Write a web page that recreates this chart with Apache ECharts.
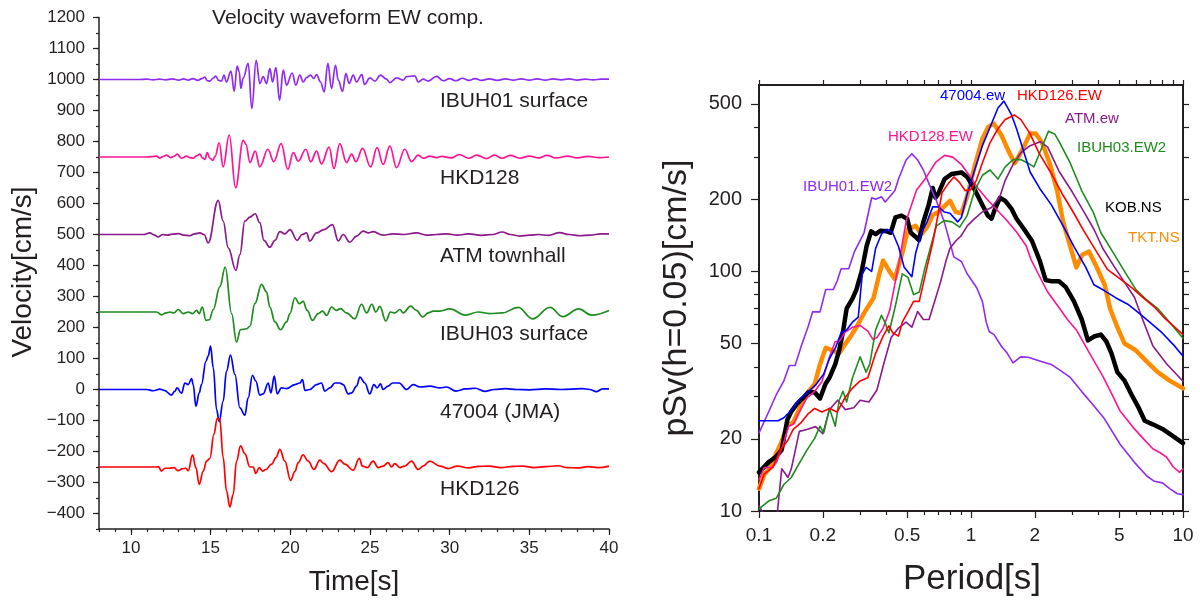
<!DOCTYPE html>
<html>
<head>
<meta charset="utf-8">
<title>Velocity waveform / pSv</title>
<script src="https://cdn.jsdelivr.net/npm/echarts@6.0.0/dist/echarts.min.js"></script>
<style>
  html, body { margin: 0; padding: 0; background: #fff; }
  #chart { width: 1200px; height: 600px; }
</style>
</head>
<body>
<div id="chart"></div>
<script>
// ---- left panel: velocity waveforms (EW comp.) ----
const timeTicks = [10, 15, 20, 25, 30, 35, 40];
const velocityTicks = [-400, -300, -200, -100, 0, 100, 200, 300, 400, 500, 600, 700, 800, 900, 1000, 1100, 1200];
const stationNames = ["IBUH01 surface", "HKD128", "ATM townhall", "IBUH03 surface", "47004 (JMA)", "HKD126"];
const stationOffsets = [1000, 750, 500, 250, 0, -250];

// [time s, velocity cm/s relative to the trace offset]
const ibuh01Ew = [[8,0],[10.5,0],[11,1],[11.4,-1],[11.8,1],[12.2,-1],[12.6,2],[13,-2],[13.3,2],[13.6,-2],[13.9,3],[14.2,-3],[14.45,3],[14.64,8],[14.8,-4],[14.96,-5],[15.15,4],[15.33,11],[15.5,-3],[15.69,-5],[15.84,14],[16,-8],[16.28,27],[16.48,-38],[16.67,43],[16.8,25],[16.9,-29],[17.05,5],[17.36,52],[17.59,-94],[17.86,62],[18.09,-13],[18.3,9],[18.51,-13],[18.72,35],[18.89,-8],[19.1,38],[19.33,-67],[19.56,30],[19.77,-18],[20.12,21],[20.35,-18],[20.6,14],[20.81,-8],[21.02,6],[21.27,14],[21.48,3],[21.65,16],[21.9,-8],[22.13,-40],[22.36,52],[22.59,-29],[22.84,46],[23.01,-2],[23.28,-38],[23.49,19],[23.7,-13],[23.95,14],[24.16,-8],[24.49,16],[24.66,-16],[25,5],[25.31,-5],[25.66,14],[26.04,1],[26.25,-10],[26.67,5],[27.09,-2],[27.3,9],[27.82,12],[28.03,-8],[28.34,1],[28.66,-5],[29.18,10],[29.6,-4],[30,3],[30.4,-4],[30.8,4],[31.2,-3],[31.6,3],[32,-3],[32.5,2],[33,-3],[33.5,2],[34,-2],[34.5,2],[35,-2],[35.5,2],[36,-2],[36.5,2],[37,-1],[37.5,2],[38,-2],[38.5,1],[39,-1],[39.5,1],[40,1]];
const hkd128Ew = [[8,0],[11,0],[11.3,1],[11.61,3],[11.82,-4],[12,1],[12.24,6],[12.5,-2],[12.7,2],[12.91,9],[13.18,-4],[13.5,3],[13.7,-2],[13.91,-4],[14.1,3],[14.33,9],[14.5,-3],[14.64,-8],[14.79,14],[14.96,-4],[15.13,-11],[15.29,3],[15.54,46],[15.79,-32],[16.17,71],[16.57,-99],[17.05,54],[17.22,41],[17.47,-18],[17.8,19],[18.09,-32],[18.6,25],[18.97,-15],[19.43,43],[19.85,-40],[20.19,14],[20.5,-13],[20.98,25],[21.29,-15],[21.65,19],[21.96,-22],[22.44,32],[22.74,-37],[23.11,43],[23.53,-18],[23.85,9],[24.12,-15],[24.54,28],[25.04,-32],[25.45,30],[25.83,-24],[26.25,35],[26.67,-34],[27.19,25],[27.61,-15],[28.03,6],[28.34,-4],[28.76,3],[29.18,-2],[29.5,2],[30.1,-3],[30.6,8],[31.2,-4],[31.7,6],[32.3,-5],[32.8,6],[33.3,-4],[33.8,5],[34.4,-4],[35,3],[35.6,-3],[36.1,5],[36.7,-3],[37.4,3],[38,-3],[38.7,2],[39.4,-2],[40,0]];
const atmEw = [[8,0],[10.8,0],[11.19,5],[11.45,-1],[11.72,-8],[12,0],[12.3,-2],[12.6,1],[13,3],[13.3,-2],[13.7,-4],[14,2],[14.33,5],[14.6,0],[14.85,-27],[15.48,110],[15.79,43],[16.11,-43],[16.59,-116],[16.84,-65],[17.15,43],[17.47,56],[17.8,67],[18.09,38],[18.35,-19],[18.72,-41],[19.04,-19],[19.35,9],[19.66,2],[19.98,16],[20.44,-19],[20.75,0],[21.02,5],[21.23,-21],[21.65,5],[22.11,16],[22.65,32],[23.01,-21],[23.32,0],[23.74,-25],[24.16,-5],[24.58,11],[24.9,5],[25.2,9],[25.83,-2],[26.46,2],[27.09,0],[27.92,5],[28.55,-2],[29.18,0],[29.8,2],[30.5,-2],[31.2,2],[32,-3],[32.7,0],[33.3,8],[33.8,0],[34.4,-5],[35,-2],[35.6,0],[36.2,-3],[36.9,6],[37.5,0],[38.2,-4],[38.8,-2],[39.5,2],[40,2]];
const ibuh03Ew = [[8,0],[11.4,0],[11.61,0],[11.93,-9],[12.2,-3],[12.45,0],[12.7,-3],[12.97,8],[13.28,-5],[13.6,0],[13.87,-5],[14.12,5],[14.29,-5],[14.48,16],[14.71,-27],[14.92,-25],[15.17,8],[15.58,81],[15.92,145],[16.32,-5],[16.63,-97],[16.88,-57],[17.26,-54],[17.47,-46],[17.78,27],[18.2,89],[18.51,65],[18.72,16],[19.04,-32],[19.39,-57],[19.77,-32],[19.98,-5],[20.29,46],[20.56,27],[20.81,34],[21.06,5],[21.4,-27],[21.75,-5],[22.03,3],[22.28,-11],[22.59,16],[22.9,5],[23.15,11],[23.53,-3],[24.05,-22],[24.47,25],[24.79,-3],[25.12,25],[25.37,0],[25.62,18],[26,-29],[26.29,0],[26.56,-3],[26.88,8],[27.09,-3],[27.55,19],[27.92,5],[28.3,-16],[28.66,-3],[28.97,3],[29.39,3],[30,10],[31,-10],[31.8,0],[32.5,-5],[33.3,-3],[34.3,15],[35.2,-22],[36.3,15],[37.1,-15],[38.1,10],[38.9,-10],[40,5]];
const jma47004Ew = [[8,0],[11,0],[11.4,-4],[11.82,1],[12.1,-3],[12.55,-18],[12.75,-6],[12.9,5],[13.18,-12],[13.39,21],[13.6,16],[13.81,35],[13.91,16],[14.08,-54],[14.29,-11],[14.43,16],[14.71,91],[14.85,108],[15,140],[15.17,70],[15.38,-65],[15.54,-104],[15.79,-38],[16,59],[16.25,111],[16.53,48],[16.84,-59],[17.15,-83],[17.36,-27],[17.63,46],[17.84,27],[18.09,-18],[18.3,-14],[18.62,21],[18.78,-11],[19,43],[19.18,-14],[19.45,5],[19.77,3],[20.29,16],[20.6,21],[20.77,32],[20.92,-3],[21.23,0],[21.65,16],[21.96,21],[22.17,-5],[22.49,5],[22.8,21],[23.11,21],[23.32,16],[23.64,-14],[23.85,-11],[24.16,11],[24.37,40],[24.68,21],[24.99,-14],[25.25,16],[25.45,5],[25.66,18],[25.83,0],[26.14,11],[26.42,21],[26.83,21],[27.3,0],[27.71,16],[28.13,8],[28.76,11],[29.39,5],[29.8,8],[30.4,-5],[31,2],[31.6,4],[32.2,-6],[32.8,0],[33.5,3],[34.2,0],[35,-1],[36,2],[37,0],[38.3,3],[38.8,0],[39.2,-7],[39.6,2],[40,2]];
const hkd126Ew = [[8,0],[11.4,0],[11.61,0],[11.72,1],[11.93,-13],[12.13,-4],[12.45,-4],[12.7,-2],[12.97,-12],[13.2,-6],[13.45,-4],[13.6,-12],[13.87,39],[14.08,-2],[14.29,-56],[14.54,-13],[14.75,19],[14.96,28],[15.21,105],[15.42,157],[15.58,154],[15.79,30],[16,-77],[16.21,-129],[16.42,-88],[16.63,19],[16.88,68],[17.15,43],[17.47,0],[17.68,0],[17.84,-21],[18.05,-2],[18.26,-13],[18.47,-8],[18.83,9],[19.1,30],[19.35,57],[19.66,19],[20.02,-43],[20.29,-15],[20.5,14],[20.81,39],[21.13,19],[21.48,-8],[21.86,22],[22.11,11],[22.59,-15],[23.11,22],[23.43,9],[23.95,-11],[24.33,28],[24.53,3],[24.83,-2],[25.2,19],[25.52,-2],[25.83,3],[26.14,14],[26.35,0],[26.56,11],[26.88,-2],[27.19,3],[27.61,19],[28.03,-8],[28.34,3],[28.76,19],[29.39,3],[29.9,-5],[30.5,3],[31.2,-3],[31.8,2],[32.5,3],[33.2,-2],[34,2],[34.6,3],[35.3,-2],[36,1],[36.8,4],[37.4,-2],[38,-3],[38.7,1],[39.3,-2],[40,3]];

// ---- right panel: pSv (h=0.05) ----
const periodMajor = [0.1, 0.2, 0.5, 1, 2, 5, 10];
const periodMinor = [0.3, 0.4, 0.6, 0.7, 0.8, 0.9, 3, 4, 6, 7, 8, 9];
const psvMajor = [10, 20, 50, 100, 200, 500];
const psvMinor = [30, 40, 60, 70, 80, 90, 300, 400];

// [period s, pSv cm/s]
const ibuh01Ew2 = [[0.1,21.2],[0.111,25.9],[0.1205,30.5],[0.131,34.9],[0.139,40.5],[0.148,40.5],[0.158,48.6],[0.171,59.3],[0.179,67.8],[0.194,67.8],[0.2065,84],[0.224,84],[0.234,91.4],[0.244,102.6],[0.265,102.6],[0.282,121],[0.313,145],[0.34,203],[0.355,200],[0.378,205],[0.394,195],[0.419,208],[0.437,217],[0.455,243],[0.494,292],[0.526,310],[0.56,292],[0.596,265],[0.634,232],[0.689,196],[0.748,161],[0.796,132],[0.83,115],[0.847,113],[0.901,110],[0.959,97.8],[1.064,85.5],[1.132,74.8],[1.18,61.4],[1.22,56],[1.282,54.6],[1.394,48.6],[1.483,45.5],[1.578,41.5],[1.715,44],[1.862,43.8],[2.109,42.3],[2.388,40.9],[2.594,39],[2.94,36.1],[3.33,31.5],[3.77,27.7],[4.27,24.2],[5.05,19],[5.96,15.8],[6.75,14],[7.33,13.3],[8,13.1],[8.65,12.4],[9.4,11.8],[10,11.7]];
const hkd128Ew2 = [[0.1,13.5],[0.106,15.2],[0.116,15.2],[0.121,16],[0.13,19],[0.138,22.6],[0.145,23],[0.155,25.9],[0.168,29.6],[0.183,31.6],[0.198,34.6],[0.215,44],[0.229,51],[0.239,51],[0.254,55.5],[0.276,58.5],[0.3,59.5],[0.326,56.3],[0.345,52],[0.36,53],[0.385,58],[0.414,69],[0.453,104],[0.496,164],[0.553,218],[0.617,248],[0.68,285],[0.75,305],[0.82,300],[0.9,280],[0.986,250],[1.08,222],[1.18,202],[1.3,184],[1.47,164],[1.65,145],[1.82,128],[1.92,112],[2.11,95],[2.3,82],[2.62,70],[2.85,63],[3.14,57],[3.6,46],[4.2,36.3],[4.6,31],[5.03,26.3],[5.8,22.4],[6.48,20.1],[7.2,18.2],[7.8,17.5],[8.35,16.8],[8.98,15.3],[9.64,14.5],[10,15]];
const atmEw2 = [[0.1,10.5],[0.106,9.6],[0.115,9.3],[0.122,9.8],[0.128,15],[0.137,13.8],[0.142,15],[0.155,21.5],[0.168,21.9],[0.185,22.5],[0.2,21],[0.215,26.5],[0.235,29],[0.255,26.5],[0.28,27],[0.3,29],[0.33,28.5],[0.36,32],[0.39,42],[0.42,53],[0.455,58],[0.494,61.4],[0.526,58.5],[0.56,68],[0.596,63],[0.634,63],[0.674,75],[0.72,91],[0.763,111],[0.796,125],[0.847,134],[0.9,141],[0.96,155],[1.04,166],[1.13,177],[1.25,185],[1.37,206],[1.45,240],[1.58,280],[1.72,313],[1.9,335],[2.12,348],[2.3,330],[2.6,262],[3,215],[3.4,178],[3.8,150],[4.2,124],[4.7,106],[5.3,90],[5.9,78],[6.5,62],[7.2,49],[8.4,41],[10,34.8]];
const ibuh03Ew2 = [[0.1,10.2],[0.111,11],[0.1205,11.3],[0.131,12.9],[0.142,13.8],[0.151,15.2],[0.168,17.9],[0.183,20.1],[0.194,22.6],[0.202,21.2],[0.215,26.8],[0.229,22.6],[0.239,29],[0.249,31.6],[0.259,28.5],[0.276,36],[0.3,44],[0.32,38],[0.333,41],[0.355,57],[0.378,65.6],[0.394,61],[0.41,55.5],[0.437,70],[0.474,97.7],[0.504,94.5],[0.536,80],[0.57,82],[0.607,104],[0.646,127],[0.687,155],[0.748,163],[0.813,161],[0.884,153],[0.959,171],[1.04,217],[1.132,252],[1.23,265],[1.34,243],[1.45,273],[1.58,293],[1.715,293],[1.86,283],[1.98,273],[2.11,313],[2.32,385],[2.48,375],[2.62,345],[2.94,283],[3.33,217],[3.77,177],[4.1,145],[4.6,123],[5.3,100],[6,84],[6.75,76],[7.6,70],[8.65,61.4],[10,52.6]];
const jma47004Ew2 = [[0.1,23.8],[0.123,23.8],[0.131,24.5],[0.142,26.3],[0.155,29.2],[0.171,31.5],[0.186,33.8],[0.202,37.3],[0.215,43.3],[0.229,47.8],[0.244,55.5],[0.259,57],[0.276,61.4],[0.294,64.5],[0.307,97.7],[0.32,104],[0.34,100],[0.355,125],[0.378,143],[0.401,150],[0.427,145],[0.455,127],[0.484,104],[0.526,95],[0.548,119],[0.584,145],[0.62,161],[0.66,186],[0.703,186],[0.748,177],[0.796,175],[0.865,161],[0.901,168],[0.959,210],[1.04,265],[1.132,335],[1.23,400],[1.34,481],[1.43,514],[1.55,452],[1.64,394],[1.78,313],[1.9,260],[2.11,222],[2.39,190],[2.72,155],[3.06,127],[3.48,104],[3.8,88],[4.27,83],[4.83,77.5],[5.49,73],[6.2,67],[7.03,61],[7.96,55.5],[9,49.5],[10,44.3]];
const hkd126Ew2 = [[0.1,12.4],[0.106,14.3],[0.116,15.2],[0.126,17.9],[0.137,19.8],[0.145,21.9],[0.158,23.4],[0.171,25.5],[0.183,26.8],[0.198,25.9],[0.215,26.8],[0.234,25.9],[0.254,29.6],[0.276,32.6],[0.3,34.9],[0.326,36],[0.355,45.5],[0.385,53.7],[0.41,59.3],[0.427,55.5],[0.455,53.7],[0.474,61.4],[0.494,65.6],[0.536,75],[0.57,75],[0.62,104],[0.66,132],[0.703,177],[0.73,213],[0.78,232],[0.83,248],[0.88,236],[0.94,217],[1,220],[1.06,240],[1.13,283],[1.23,345],[1.34,394],[1.45,431],[1.6,450],[1.72,430],[1.9,375],[2.1,310],[2.4,255],[2.7,210],[3,180],[3.4,148],[3.8,126],[4.4,102],[5.05,93],[5.73,85.5],[6.5,77.5],[7.33,71],[8.1,64.5],[9,59.3],[10,54.5]];
const kobNs = [[0.1,14.5],[0.111,16],[0.12,16.8],[0.128,18],[0.136,24],[0.142,26],[0.151,28],[0.161,29.6],[0.171,31.3],[0.183,31.3],[0.194,29.5],[0.206,34],[0.215,36],[0.229,41],[0.239,47],[0.249,56],[0.259,70],[0.276,77],[0.288,84],[0.305,100],[0.322,128],[0.338,147],[0.355,143],[0.375,148],[0.4,147],[0.418,145],[0.44,168],[0.47,171],[0.5,166],[0.52,145],[0.545,140],[0.568,135],[0.595,160],[0.632,190],[0.66,223],[0.68,203],[0.7,210],[0.75,243],[0.81,255],[0.9,259],[0.96,248],[1.04,220],[1.13,190],[1.2,171],[1.25,166],[1.3,183],[1.37,203],[1.45,197],[1.55,183],[1.64,166],[1.78,150],[1.94,134],[2.11,111],[2.25,92],[2.4,91],[2.6,91],[2.8,86],[3.06,75],[3.33,63],[3.56,51.5],[3.8,53.5],[4.1,54.5],[4.35,51],[4.6,45.5],[4.9,38],[5.3,35],[5.73,30.5],[6.2,26.8],[6.6,23.8],[7.2,23],[8,22],[9,20.5],[10,19.2]];
const tktNs = [[0.1,12.4],[0.106,14.2],[0.113,15.2],[0.1205,17.4],[0.128,19.5],[0.1365,23],[0.145,23.4],[0.158,27.7],[0.171,31.6],[0.183,33.8],[0.194,41],[0.2065,48],[0.22,47],[0.239,45.5],[0.254,49.5],[0.271,53.7],[0.288,58.5],[0.313,67],[0.347,77.5],[0.37,98],[0.385,111],[0.41,101],[0.437,93],[0.474,119],[0.504,150],[0.548,155],[0.584,143],[0.62,153],[0.66,172],[0.703,177],[0.748,187],[0.796,197],[0.847,177],[0.901,175],[0.959,206],[1.04,274],[1.132,358],[1.206,401],[1.282,414],[1.394,369],[1.516,313],[1.61,283],[1.75,323],[1.9,376],[2.02,376],[2.16,345],[2.35,283],[2.55,217],[2.72,161],[2.94,127],[3.14,104],[3.34,117],[3.6,121],[3.92,104],[4.27,88],[4.53,70],[4.9,58.5],[5.3,50],[5.96,47],[6.75,42],[7.6,38],[8.65,35],[10,32.5]];

const ink = "#231f20";
const font = '"Liberation Sans", Arial, Helvetica, sans-serif';
const lg = Math.log10;
const powLabel = v => String(+Math.pow(10, v).toPrecision(2));
const minus = v => (v < 0 ? "\u2212" + Math.abs(v) : String(v));

const waveSets = [
  { data: ibuh01Ew, color: "#8f2cf2" },
  { data: hkd128Ew, color: "#ff1493" },
  { data: atmEw, color: "#8b1a8b" },
  { data: ibuh03Ew, color: "#1e8c1e" },
  { data: jma47004Ew, color: "#0000ff" },
  { data: hkd126Ew, color: "#ff0000" }
];

const spectraSets = [
  { name: "TKT.NS", data: tktNs, color: "#ff8c00", width: 4.5 },
  { name: "KOB.NS", data: kobNs, color: "#000000", width: 4.5 },
  { name: "IBUH01.EW2", data: ibuh01Ew2, color: "#8f2cf2", width: 1.6 },
  { name: "HKD128.EW", data: hkd128Ew2, color: "#ff1493", width: 1.6 },
  { name: "ATM.ew", data: atmEw2, color: "#8b1a8b", width: 1.6 },
  { name: "IBUH03.EW2", data: ibuh03Ew2, color: "#1e8c1e", width: 1.6 },
  { name: "47004.ew", data: jma47004Ew2, color: "#0000ff", width: 1.6 },
  { name: "HKD126.EW", data: hkd126Ew2, color: "#ff0000", width: 1.6 }
];

// label spots for the right panel (pixel anchors, left/middle)
const spectraLabelPos = {
  "47004.ew": [940, 96], "HKD126.EW": [1017, 96], "ATM.ew": [1065, 119],
  "IBUH03.EW2": [1077, 148], "KOB.NS": [1105, 208], "TKT.NS": [1128, 238],
  "HKD128.EW": [888, 137], "IBUH01.EW2": [803, 187]
};
const stationLabelY = [101, 178, 256, 334, 412, 489];

const noLine = { show: false, onZero: false };
const frameLine = w => ({ show: true, onZero: false, lineStyle: { color: ink, width: w } });
const tickStyle = { color: ink, width: 1.2 };

function text(str, x, y, size, color, rot) {
  return {
    type: "text", x: x, y: y, rotation: rot || 0, z: 100,
    style: {
      text: str, fill: color || ink, font: size + "px " + font,
      align: "left", verticalAlign: "middle", textAlign: "left", textVerticalAlign: "middle"
    }
  };
}
function ctext(str, x, y, size, rot) {
  const t = text(str, x, y, size, ink, rot);
  t.style.align = "center";
  t.style.textAlign = "center";
  return t;
}

const graphics = [
  ctext("Velocity waveform EW comp.", 348, 18, 21),
  ctext("Velocity[cm/s]", 23, 272, 28, Math.PI / 2),
  ctext("Time[s]", 354, 582, 28),
  ctext("pSv(h=0.05)[cm/s]", 677, 298, 34, Math.PI / 2),
  ctext("Period[s]", 972, 579, 35)
];
stationNames.forEach((n, i) => graphics.push(text(n, 440, stationLabelY[i], 21, ink)));
spectraSets.forEach(s => {
  const p = spectraLabelPos[s.name];
  graphics.push(text(s.name, p[0], p[1], 15, s.color));
});

const series = [];
waveSets.forEach((w, i) => {
  series.push({
    type: "line", xAxisIndex: 0, yAxisIndex: 0,
    data: w.data.map(p => [p[0], p[1] + stationOffsets[i]]),
    symbol: "none", smooth: 0.4, smoothMonotone: "x", silent: true,
    lineStyle: { color: w.color, width: 1.7 }
  });
});
spectraSets.forEach(s => {
  series.push({
    type: "line", name: s.name, xAxisIndex: 2, yAxisIndex: 2,
    data: s.data, symbol: "none", silent: true, clip: true,
    lineStyle: { color: s.color, width: s.width, join: "round", cap: "round" }
  });
});

const pMin = 0.1, pMax = 10, vMin = 10, vMax = 600;
const periodAll = periodMajor.concat(periodMinor).map(lg);
const psvAll = psvMajor.concat(psvMinor).map(lg);

const option = {
  backgroundColor: "#fff",
  animation: false,
  grid: [
    { left: 99, right: 591, top: 17.5, bottom: 71, containLabel: false, outerBoundsMode: "none" },
    { left: 759, right: 17, top: 85, bottom: 89, containLabel: false, outerBoundsMode: "none" }
  ],
  xAxis: [
    { gridIndex: 0, type: "value", position: "bottom", min: 8, max: 40,
      axisLine: frameLine(1.5),
      axisTick: { customValues: timeTicks, length: 6, lineStyle: tickStyle },
      axisLabel: { customValues: timeTicks, fontSize: 17, color: ink, fontFamily: font, margin: 11 },
      splitLine: { show: false } },
    { gridIndex: 0, type: "value", position: "bottom", min: 8, max: 40, interval: 1,
      axisLine: noLine, axisTick: { length: 3, lineStyle: tickStyle },
      axisLabel: { show: false }, splitLine: { show: false } },
    { gridIndex: 1, type: "log", position: "bottom", min: pMin, max: pMax,
      axisLine: frameLine(2), axisTick: { show: false }, axisLabel: { show: false },
      splitLine: { show: false }, minorTick: { show: false } },
    { gridIndex: 1, type: "value", position: "bottom", min: lg(pMin), max: lg(pMax),
      axisLine: noLine,
      axisTick: { customValues: periodMajor.map(lg), length: 7, lineStyle: tickStyle },
      axisLabel: { customValues: periodMajor.map(lg), formatter: powLabel, fontSize: 19, color: ink, fontFamily: font, margin: 15 },
      splitLine: { show: false } },
    { gridIndex: 1, type: "value", position: "bottom", min: lg(pMin), max: lg(pMax),
      axisLine: noLine,
      axisTick: { customValues: periodMinor.map(lg), length: 4, lineStyle: tickStyle },
      axisLabel: { show: false }, splitLine: { show: false } },
    { gridIndex: 1, type: "value", position: "top", min: lg(pMin), max: lg(pMax),
      axisLine: frameLine(2),
      axisTick: { customValues: periodAll, length: 5, lineStyle: tickStyle },
      axisLabel: { show: false }, splitLine: { show: false } }
  ],
  yAxis: [
    { gridIndex: 0, type: "value", position: "left", min: -450, max: 1200,
      axisLine: frameLine(1.5),
      axisTick: { customValues: velocityTicks, length: 6, lineStyle: tickStyle },
      axisLabel: { customValues: velocityTicks, formatter: minus, fontSize: 17, color: ink, fontFamily: font, margin: 14 },
      splitLine: { show: false } },
    { gridIndex: 0, type: "value", position: "left", min: -450, max: 1200, interval: 50,
      axisLine: noLine, axisTick: { length: 3, lineStyle: tickStyle },
      axisLabel: { show: false }, splitLine: { show: false } },
    { gridIndex: 1, type: "log", position: "left", min: vMin, max: vMax,
      axisLine: frameLine(2), axisTick: { show: false }, axisLabel: { show: false },
      splitLine: { show: false }, minorTick: { show: false } },
    { gridIndex: 1, type: "value", position: "left", min: lg(vMin), max: lg(vMax),
      axisLine: noLine,
      axisTick: { customValues: psvMajor.map(lg), length: 8, lineStyle: tickStyle },
      axisLabel: { customValues: psvMajor.map(lg), formatter: powLabel, fontSize: 20, color: ink, fontFamily: font, margin: 17 },
      splitLine: { show: false } },
    { gridIndex: 1, type: "value", position: "left", min: lg(vMin), max: lg(vMax),
      axisLine: noLine,
      axisTick: { customValues: psvMinor.map(lg), length: 5, lineStyle: tickStyle },
      axisLabel: { show: false }, splitLine: { show: false } },
    { gridIndex: 1, type: "value", position: "right", min: lg(vMin), max: lg(vMax),
      axisLine: frameLine(2),
      axisTick: { customValues: psvAll, length: 6, lineStyle: tickStyle },
      axisLabel: { show: false }, splitLine: { show: false } }
  ],
  series: series,
  graphic: graphics
};

const chart = echarts.init(document.getElementById("chart"), null, { renderer: "canvas" });
chart.setOption(option);
window.addEventListener("resize", () => chart.resize());
</script>
</body>
</html>
